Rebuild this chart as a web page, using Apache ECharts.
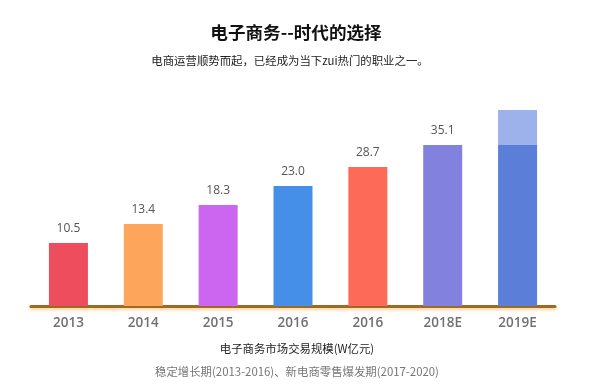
<!DOCTYPE html>
<html>
<head>
<meta charset="utf-8">
<script src="https://cdn.jsdelivr.net/npm/echarts@6/dist/echarts.min.js"></script>
<style>html,body{margin:0;padding:0;background:#fff;}#c{width:600px;height:386px;}</style>
</head>
<body>
<div id="c"></div>
<script>
// categories shown on the x axis
var categories = ['2013', '2014', '2015', '2016', '2016', '2018E', '2019E'];
// value labels printed above bars (2019E has none)
var valueLabels = ['10.5', '13.4', '18.3', '23.0', '28.7', '35.1', ''];
// bar heights as drawn in the picture (staircase, relative units)
var barLevels = [63, 82, 101, 120, 139, 161, 161];
// lighter extension on top of the 2019E bar
var barExtra = [0, 0, 0, 0, 0, 0, 35];
// bar colours
var barColors = ['#ee4d5e', '#fda55a', '#cc66f1', '#468fe8', '#fe6a58', '#8281dd', '#5b7ed9'];
var extraColor = '#9db1ea';

var chart = echarts.init(document.getElementById('c'));
chart.setOption({
  animation: false,
  title: [
    {text: '电子商务--时代的选择', left: 291, top: 19, textAlign: 'center',
     textStyle: {fontSize: 17.6, fontWeight: 'bold', color: '#111', fontFamily: 'Noto Sans CJK SC'}},
    {text: '电商运营顺势而起，已经成为当下zui热门的职业之一。', left: 285, top: 50, textAlign: 'center',
     textStyle: {fontSize: 11.4, fontWeight: 'normal', color: '#222', fontFamily: 'Noto Sans CJK SC'}},
    {text: '电子商务市场交易规模(W亿元)', left: 292, top: 338, textAlign: 'center',
     textStyle: {fontSize: 11.4, fontWeight: 'normal', color: '#222', fontFamily: 'Noto Sans CJK SC'}},
    {text: '稳定增长期(2013-2016)、新电商零售爆发期(2017-2020)', left: 292, top: 361, textAlign: 'center',
     textStyle: {fontSize: 11.4, fontWeight: 'normal', color: '#777', fontFamily: 'Noto Sans CJK SC'}}
  ],
  grid: {left: 31, right: 45, top: 100, bottom: 80},
  xAxis: {
    type: 'category',
    data: categories,
    axisLine: {lineStyle: {color: '#9c6a22', width: 3, shadowColor: 'rgba(255,175,80,0.6)', shadowBlur: 3, shadowOffsetY: 2}},
    axisTick: {show: false},
    axisLabel: {color: '#707070', fontSize: 13.5, fontWeight: 600, margin: 10, fontFamily: 'Open Sans'}
  },
  yAxis: {type: 'value', min: 0, max: 206, show: false, splitLine: {show: false}},
  series: [
    {
      type: 'bar', stack: 's', barWidth: 39,
      data: barLevels.map(function (v, i) { return {value: v, itemStyle: {color: barColors[i]}}; }),
      label: {show: true, position: 'top', distance: 8, color: '#555', fontSize: 12, fontFamily: 'Open Sans',
        formatter: function (p) { return valueLabels[p.dataIndex]; }}
    },
    {
      type: 'bar', stack: 's', barWidth: 39,
      data: barExtra,
      itemStyle: {color: extraColor}
    }
  ]
});
</script>
</body>
</html>
